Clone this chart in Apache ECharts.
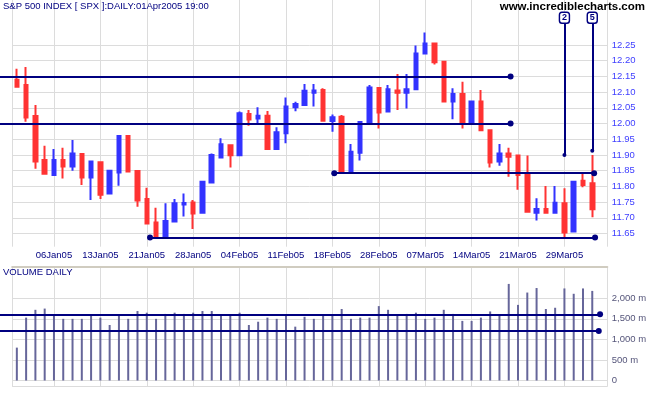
<!DOCTYPE html>
<html><head><meta charset="utf-8">
<script src="https://cdn.jsdelivr.net/npm/echarts@6/dist/echarts.min.js"></script>
<style>html,body{margin:0;padding:0;background:#fff}#c{width:651px;height:395px}</style>
</head><body><div id="c"></div>
<script>
// ---- data (S&P 500 / 100) ----
const dates = ['31Dec04',
 '03Jan05','04Jan05','05Jan05','06Jan05','07Jan05','10Jan05','11Jan05','12Jan05','13Jan05','14Jan05',
 '18Jan05','19Jan05','20Jan05','21Jan05','24Jan05','25Jan05','26Jan05','27Jan05','28Jan05','31Jan05',
 '01Feb05','02Feb05','03Feb05','04Feb05','07Feb05','08Feb05','09Feb05','10Feb05','11Feb05',
 '14Feb05','15Feb05','16Feb05','17Feb05','18Feb05','22Feb05','23Feb05','24Feb05','25Feb05','28Feb05',
 '01Mar05','02Mar05','03Mar05','04Mar05','07Mar05','08Mar05','09Mar05','10Mar05','11Mar05',
 '14Mar05','15Mar05','16Mar05','17Mar05','18Mar05','21Mar05','22Mar05','23Mar05','24Mar05',
 '28Mar05','29Mar05','30Mar05','31Mar05','01Apr05'];
const open  = [12.139,12.123,12.024,11.884,11.836,11.884,11.863,11.903,11.828,11.877,11.777,11.844,11.960,11.849,11.760,11.685,11.639,11.688,11.742,11.749,11.716,
 11.812,11.892,11.931,11.899,12.030,12.016,12.025,11.919,11.969,12.052,12.059,12.098,12.107,12.008,12.022,11.844,11.907,11.999,12.113,
 12.038,12.105,12.098,12.109,12.223,12.255,12.197,12.070,12.094,11.999,12.070,11.979,11.879,11.905,11.898,11.842,11.716,11.728,11.716,11.746,11.656,11.818,11.810];
const high  = [12.174,12.180,12.059,11.929,11.919,11.923,11.948,11.904,11.882,11.879,11.852,11.960,11.960,11.849,11.796,11.732,11.746,11.760,11.777,11.757,11.818,
 11.905,11.953,11.932,12.038,12.043,12.052,12.040,11.988,12.083,12.069,12.126,12.126,12.112,12.029,12.027,11.935,12.005,12.123,12.113,
 12.123,12.158,12.158,12.248,12.290,12.257,12.197,12.112,12.133,12.070,12.107,11.979,11.935,11.923,11.898,11.898,11.762,11.801,11.801,11.794,11.817,11.845,11.900];
const low   = [12.116,12.006,11.856,11.838,11.834,11.825,11.850,11.804,11.757,11.760,11.777,11.802,11.845,11.735,11.680,11.639,11.639,11.688,11.704,11.664,11.716,
 11.810,11.890,11.860,11.899,11.993,12.001,11.917,11.917,11.937,12.039,12.057,12.054,12.009,11.974,11.844,11.844,11.882,11.997,11.984,
 12.038,12.043,12.048,12.109,12.223,12.188,12.070,12.014,11.984,11.997,11.979,11.860,11.866,11.831,11.789,11.716,11.691,11.716,11.716,11.638,11.655,11.797,11.702];
const close = [12.117,12.019,11.879,11.840,11.884,11.863,11.905,11.828,11.879,11.773,11.850,11.960,11.847,11.755,11.682,11.639,11.690,11.746,11.747,11.714,11.815,
 11.900,11.934,11.899,12.033,12.013,12.025,11.919,11.972,12.054,12.062,12.104,12.105,12.009,12.020,11.844,11.910,12.005,12.115,12.035,
 12.109,12.098,12.109,12.223,12.255,12.195,12.070,12.094,11.999,12.070,11.979,11.876,11.905,11.894,11.836,11.719,11.728,11.716,11.748,11.653,11.815,11.804,11.727];
const volume = [800,1530,1720,1750,1570,1500,1500,1500,1570,1530,1350,1610,1500,1690,1650,1500,1620,1650,1620,1650,1690,
 1690,1570,1570,1650,1350,1430,1530,1500,1570,1310,1550,1500,1610,1570,1740,1500,1530,1530,1810,
 1720,1570,1620,1650,1500,1530,1720,1620,1450,1450,1530,1680,1610,2350,1840,2140,2250,1740,1770,2240,2110,2240,2180];

// tick values shown on the two value axes
const priceTicks  = [11.65,11.70,11.75,11.80,11.85,11.90,11.95,12.00,12.05,12.10,12.15,12.20,12.25];
const volumeTicks = [0,500,1000,1500,2000];

// annotation lines drawn on the chart (positions in trading-day index, values in price units)
const priceLevels = [
  {value: 12.15,  from: null,  to: 53.2,  dotStart: false},
  {value: 12.00,  from: null,  to: 53.2,  dotStart: false},
  {value: 11.842, from: 34.2,  to: 62.2,  dotStart: true},
  {value: 11.637, from: 14.35, to: 62.3,  dotStart: true},
  {value: 11.607, from: null,  to: 29.33, dotStart: false}
];
const waveMarks = [{label: '2', at: 59, value: 11.90}, {label: '5', at: 62, value: 11.913}];
const volumeLevels = [{value: 1610, to: 62.84}, {value: 1205, to: 62.7}];

// ---- styling ----
const NAVY = '#000080', BLUE = '#3333ff', RED = '#ff3333', GRID = '#dcdcdc';
const FONT = 'Liberation Sans, Arial, sans-serif';
const X0 = dates.indexOf('06Jan05');            // first labelled day -> axis value 0
const xv = i => i - X0;
const XMIN = -4.5, XMAX = 59.62;
const PMIN = 11.608, PMAX = 12.3932, PTOP = priceTicks[priceTicks.length - 1];
const VMIN = -151, VMAX = 2769, VTOP = volumeTicks[volumeTicks.length - 1];

const L = 12.2, R = 43.7;
const chart = echarts.init(document.getElementById('c'), null, {renderer: 'canvas'});
const hiddenX = gi => ({type: 'value', gridIndex: gi, min: XMIN, max: XMAX, show: false});
const xGridAxis = (gi, extra) => Object.assign({
  type: 'value', gridIndex: gi, min: XMIN, max: XMAX, splitNumber: 13,
  axisLine: {show: false, onZero: false}, axisTick: {show: false}, axisLabel: {show: false},
  splitLine: {show: true, lineStyle: {color: GRID, width: 1}}
}, extra || {});

const option = {
  animation: false,
  backgroundColor: '#fff',
  textStyle: {fontFamily: FONT},
  title: [
    {text: 'S&P 500 INDEX [ SPX ]:DAILY:01Apr2005 19:00', left: 3, top: 1, padding: 0,
     textStyle: {fontSize: 9.5, fontWeight: 'normal', color: NAVY, fontFamily: FONT}},
    {text: 'www.incrediblecharts.com', right: 6, top: 1, padding: 0,
     textStyle: {fontSize: 11.5, fontWeight: 'bold', color: '#000', fontFamily: FONT}},
    {text: 'VOLUME DAILY', left: 3, top: 267, padding: 0,
     textStyle: {fontSize: 9.5, fontWeight: 'normal', color: NAVY, fontFamily: FONT}}
  ],
  grid: [
    {left: L, right: R, top: 0, bottom: 148.3, containLabel: false, outerBoundsMode: 'none'},
    {left: L, right: R, top: 45, bottom: 148.3, containLabel: false, outerBoundsMode: 'none'},
    {left: L, right: R, top: 266.7, bottom: 8.3, containLabel: false, outerBoundsMode: 'none'},
    {left: L, right: R, top: 298.3, bottom: 8.3, containLabel: false, outerBoundsMode: 'none'}
  ],
  xAxis: [
    xGridAxis(0, {axisLabel: {show: true, margin: 4, fontSize: 9.5, color: NAVY, fontFamily: FONT,
        showMinLabel: false, showMaxLabel: false,
        formatter: v => { const i = Math.round(v) + X0; return (Math.abs(v - Math.round(v)) < 1e-6 && dates[i]) ? dates[i] : ''; }}}),
    hiddenX(1),
    xGridAxis(2, {position: 'top', axisLine: {show: true, onZero: false, lineStyle: {color: '#d0ccc0', width: 2}}}),
    hiddenX(3)
  ],
  yAxis: [
    {type: 'value', gridIndex: 0, min: PMIN, max: PMAX, show: false},
    {type: 'value', gridIndex: 1, position: 'right', min: PMIN, max: PTOP, splitNumber: 12,
     axisLine: {show: false, onZero: false}, axisTick: {show: false},
     splitLine: {show: true, showMinLine: false, lineStyle: {color: GRID, width: 1}},
     axisLabel: {margin: 4.5, fontSize: 9.5, color: '#4040ff', fontFamily: FONT,
       showMinLabel: false, formatter: v => v.toFixed(2)}},
    {type: 'value', gridIndex: 2, min: VMIN, max: VMAX, show: false},
    {type: 'value', gridIndex: 3, position: 'right', min: VMIN, max: VTOP, splitNumber: 4,
     axisLine: {show: false, onZero: false}, axisTick: {show: false},
     splitLine: {show: true, lineStyle: {color: GRID, width: 1}},
     axisLabel: {margin: 4.5, fontSize: 9.5, color: '#55557a', fontFamily: FONT,
       showMinLabel: false,
       formatter: v => v === 0 ? '0' : v.toLocaleString('en-US') + ' m'}}
  ],
  series: [
    {
      type: 'candlestick', xAxisIndex: 0, yAxisIndex: 0, clip: false, z: 3,
      data: dates.map((d, i) => [xv(i), open[i], close[i], low[i], high[i]]),
      barWidth: 4,
      itemStyle: {color: BLUE, color0: RED, borderColor: BLUE, borderColor0: RED, borderWidth: 2},
      markLine: {
        silent: true, symbol: 'none', label: {show: false}, animation: false,
        lineStyle: {color: NAVY, width: 2, type: 'solid'},
        emphasis: {disabled: true},
        data: priceLevels.map(l => [
          l.from === null ? {x: 0, yAxis: l.value, symbol: 'none'}
                          : {xAxis: xv(l.from), yAxis: l.value, symbol: l.dotStart ? 'circle' : 'none', symbolSize: 6},
          {xAxis: xv(l.to), yAxis: l.value, symbol: 'circle', symbolSize: 6}
        ]).concat(waveMarks.map(w => [
          {xAxis: xv(w.at), y: 22.7, symbol: 'none'},
          {xAxis: xv(w.at), yAxis: w.value, symbol: 'circle', symbolSize: 4}
        ]))
      },
      markPoint: {
        silent: true, symbol: 'roundRect', symbolSize: [10, 11], animation: false,
        itemStyle: {color: '#fff', borderColor: NAVY, borderWidth: 1.5},
        label: {show: true, position: 'inside', formatter: p => p.name, color: NAVY, fontSize: 9, fontWeight: 'bold', fontFamily: FONT},
        data: waveMarks.map(w => ({name: w.label, xAxis: xv(w.at), y: 17.7}))
      }
    },
    {
      type: 'bar', xAxisIndex: 2, yAxisIndex: 2, barWidth: 2, z: 3,
      data: volume.map((v, i) => [xv(i), v]),
      itemStyle: {color: '#66669a'},
      markLine: {
        silent: true, symbol: 'none', label: {show: false}, animation: false,
        lineStyle: {color: NAVY, width: 2, type: 'solid'},
        emphasis: {disabled: true},
        data: volumeLevels.map(l => [
          {x: 0, yAxis: l.value, symbol: 'none'},
          {xAxis: xv(l.to), yAxis: l.value, symbol: 'circle', symbolSize: 6}
        ])
      }
    }
  ]
};
chart.setOption(option);

// If the horizontal split lines did not come out, draw the same tick gridlines as mark lines on the axes.
let gridFallbackDone = false;
function horizontalGridCount() {
  let h = 0;
  chart.getZr().storage.getDisplayList(true).forEach(el => {
    if (el.type === 'line' && el.shape && Math.abs(el.shape.y1 - el.shape.y2) < 0.01 &&
        el.style && String(el.style.stroke).toLowerCase() === GRID && !el.invisible) h++;
  });
  return h;
}
function gridSeries(id, xi, yi, ticks) {
  return {
    id: id, type: 'line', xAxisIndex: xi, yAxisIndex: yi, z: 1, silent: true,
    data: [], showSymbol: false,
    markLine: {silent: true, symbol: 'none', label: {show: false}, animation: false,
      lineStyle: {color: GRID, width: 1, type: 'solid'}, emphasis: {disabled: true},
      data: ticks.map(v => ({yAxis: v}))}
  };
}
function ensureGrid() {
  if (gridFallbackDone) return;
  if (horizontalGridCount() < priceTicks.length) {
    gridFallbackDone = true;
    chart.setOption({series: [{}, {}, gridSeries('pgrid', 1, 1, priceTicks), gridSeries('vgrid', 3, 3, volumeTicks)]});
  }
}
try { ensureGrid(); } catch (e) {}
setTimeout(() => { try { ensureGrid(); } catch (e) {} }, 60);
setTimeout(() => { try { ensureGrid(); } catch (e) {} }, 250);
</script>
</body></html>
